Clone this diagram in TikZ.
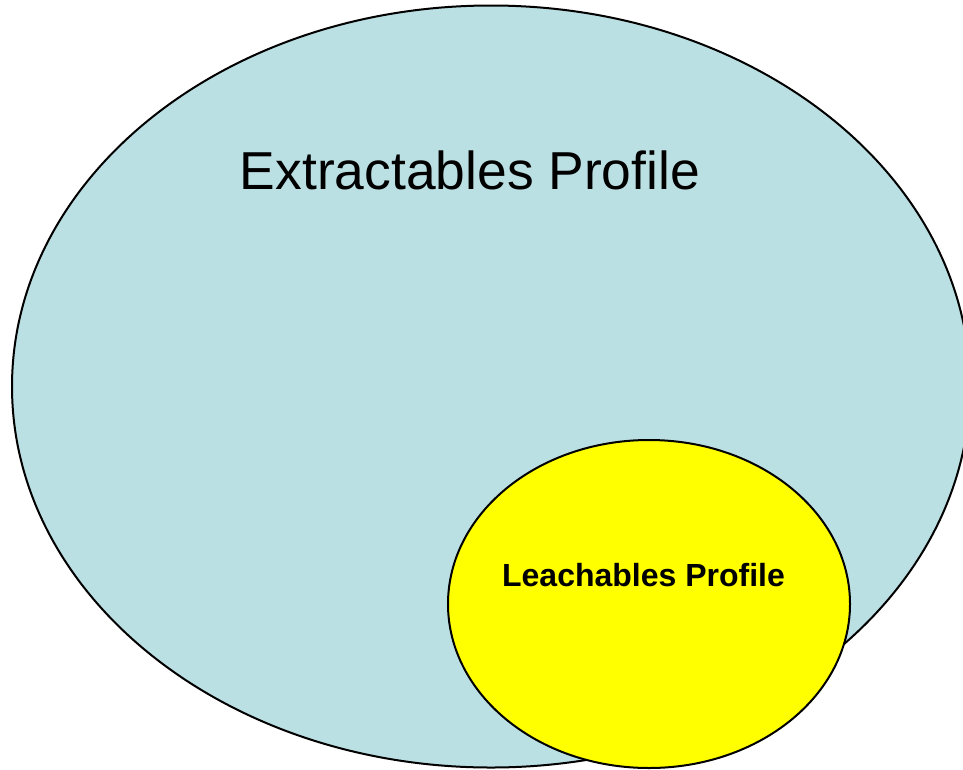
\documentclass[tikz,border=0pt]{standalone}
\usepackage{fontspec}
\setmainfont{Liberation Sans}
\begin{document}
\begin{tikzpicture}[x=1pt,y=-1pt,
  outline/.style={draw=black,line width=2pt},
  bigset/.style={outline,fill=extfill},
  smallset/.style={outline,fill=leachfill},
  biglabel/.style={font=\fontsize{53.4}{60}\selectfont,anchor=base,inner sep=0pt},
  smalllabel/.style={font=\bfseries\fontsize{32}{38}\selectfont,anchor=base,inner sep=0pt}]
\definecolor{extfill}{HTML}{BBE0E3}
\definecolor{leachfill}{HTML}{FFFF00}
\useasboundingbox (0,0) rectangle (963,769);
\begin{scope}
\clip (0,0) rectangle (963,769);
\draw[bigset] (491,386.5) ellipse [x radius=479, y radius=381];
\draw[smallset] (649,604) ellipse [x radius=201, y radius=164];
\end{scope}
\node[biglabel] (ext) at (470,189) {Extractables Profile};
\node[smalllabel] (leach) at (643.5,586) {Leachables Profile};
\end{tikzpicture}
\end{document}
